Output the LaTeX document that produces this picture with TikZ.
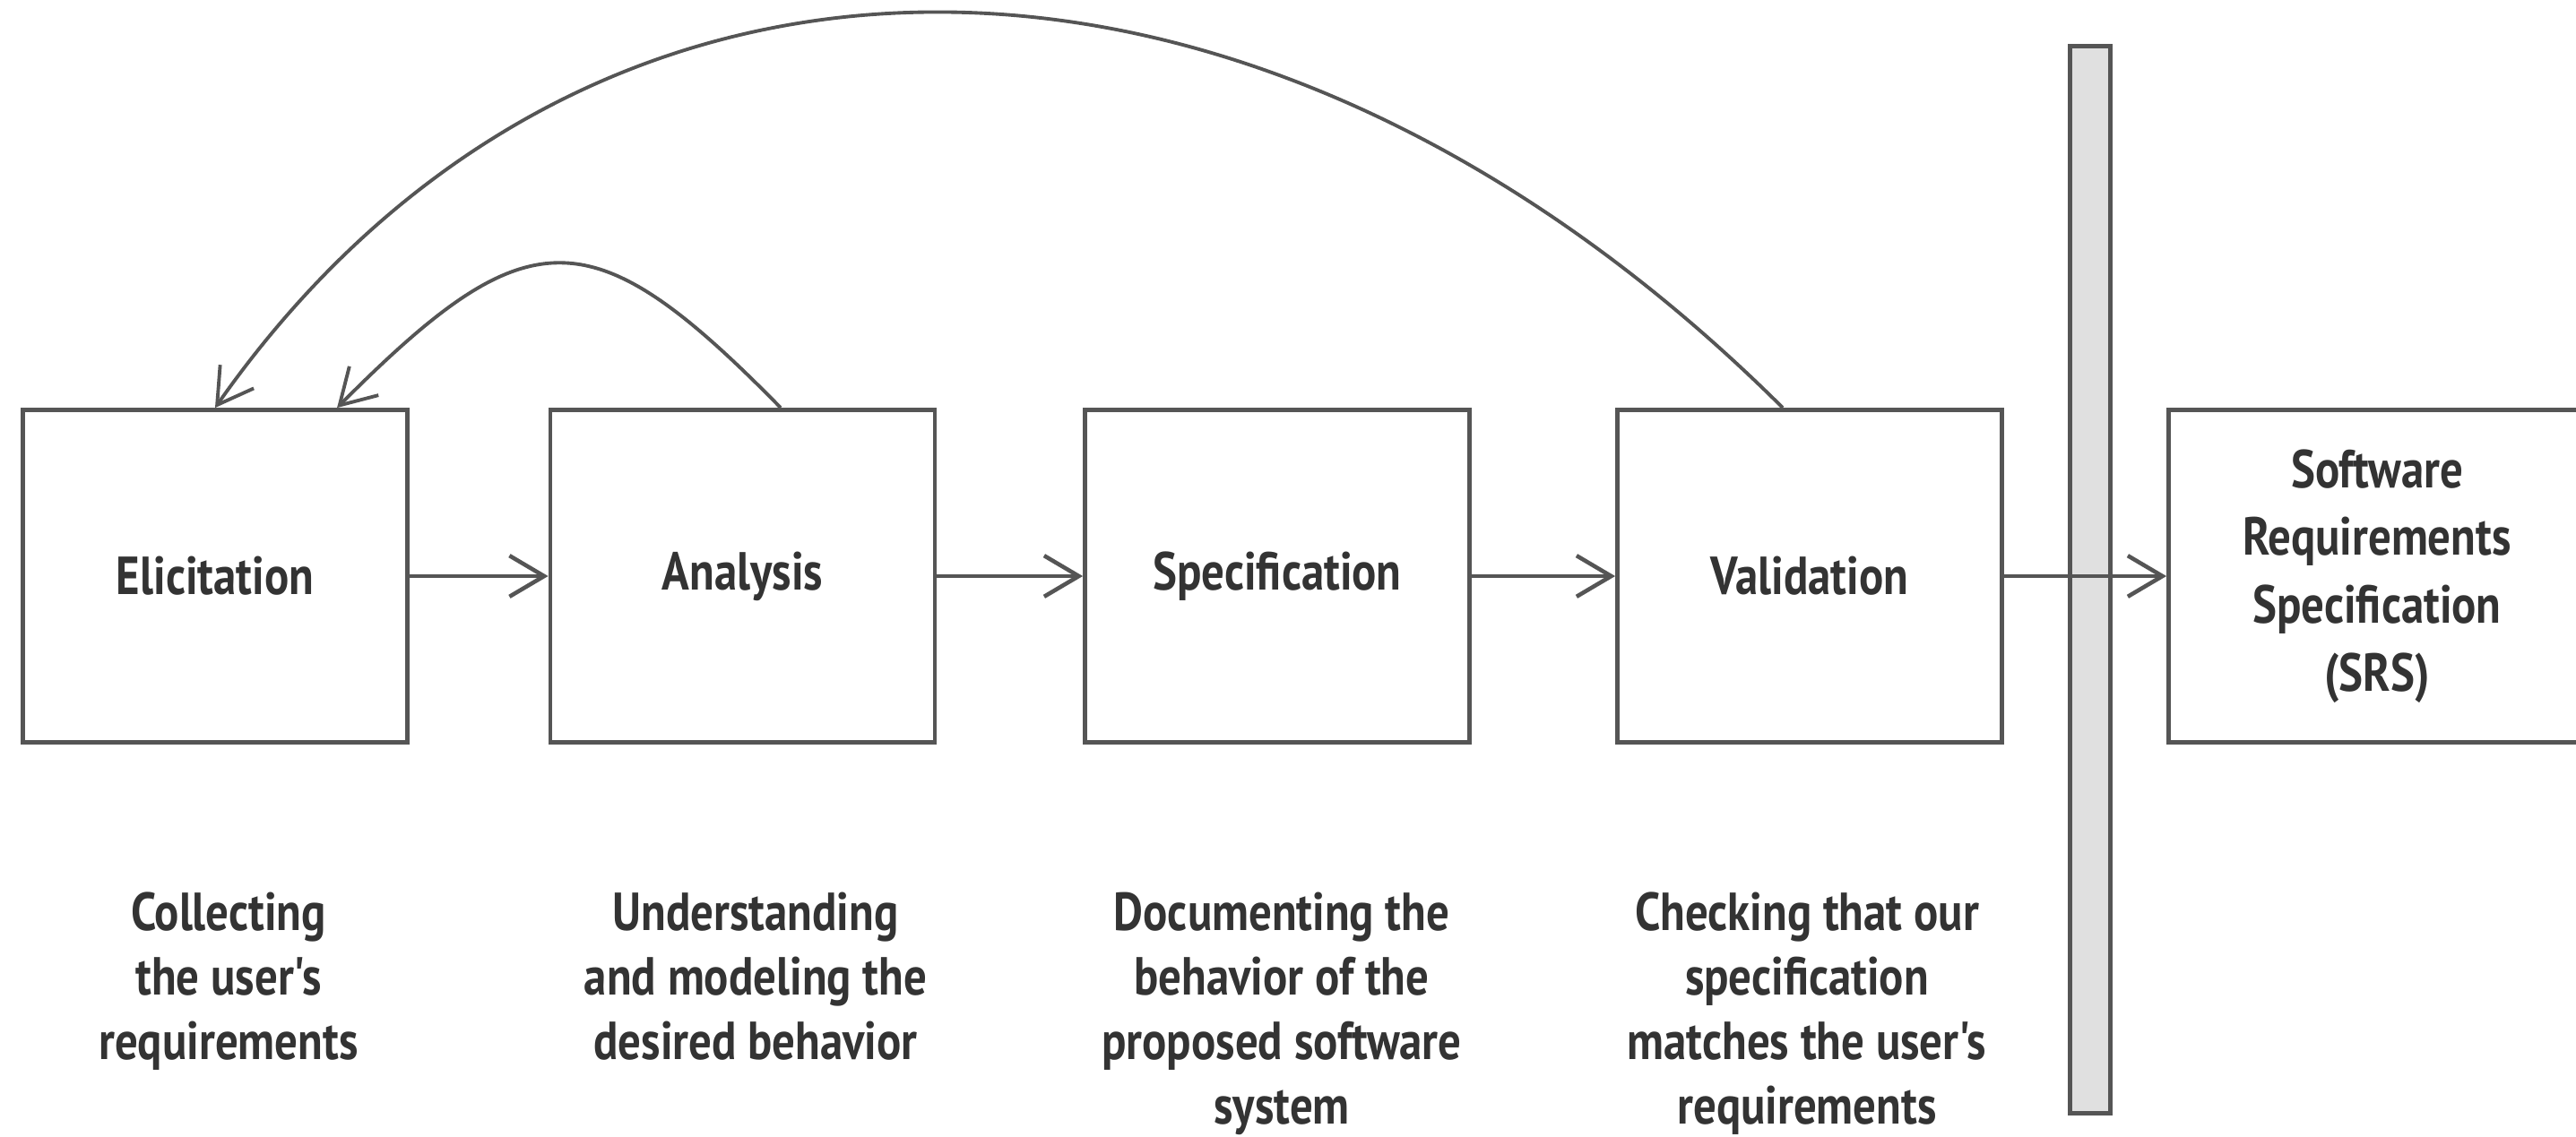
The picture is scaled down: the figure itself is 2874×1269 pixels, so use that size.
\documentclass[tikz,border=0pt]{standalone}
\usepackage{fontspec}
\newfontfamily\lbl{PT Sans}[FakeStretch=0.85]
\usetikzlibrary{arrows.meta}
\definecolor{linec}{HTML}{555555}
\definecolor{txtc}{HTML}{333333}
\definecolor{barc}{HTML}{E0E0E0}
\begin{document}
\begin{tikzpicture}[x=0.01cm,y=-0.01cm,
  box/.style={draw=linec, line width=1.3pt, minimum width=4.29cm, minimum height=3.71cm,
    inner sep=0pt, align=center, text=txtc, font=\lbl\bfseries\fontsize{17}{21.5}\selectfont},
  desc/.style={anchor=north, align=center, text=txtc, inner sep=0pt,
    font=\lbl\bfseries\fontsize{17}{20.5}\selectfont},
  barstyle/.style={draw=linec, line width=1.3pt, fill=barc, minimum width=0.45cm, minimum height=11.9cm, inner sep=0pt},
  arr/.style={draw=linec, line width=1.3pt, -{Straight Barb[length=11pt,width=13pt,line width=1.3pt]}},
  carr/.style={draw=linec, line width=1.1pt, -{Straight Barb[length=11pt,width=13pt,line width=1.1pt]}}]
\clip (0,0) rectangle (2874,1269);
\fill[white] (0,0) rectangle (2874,1269);

\node[box] (eli) at (240,643) {Elicitation};
\node[box] (ana) at (828.5,643) {Analysis};
\node[box] (spe) at (1425,643) {Specification};
\node[box] (val) at (2019,643) {Validation};
\node[box, minimum width=4.65cm] (srs) at (2652,643) {Software\\Requirements\\Specification\\(SRS)};
\node[barstyle] (bar) at (2332,647) {};

\draw[arr] (eli.east) -- (ana.west);
\draw[arr] (ana.east) -- (spe.west);
\draw[arr] (spe.east) -- (val.west);
\draw[arr] (val.east) -- (srs.west);

\draw[carr] ([xshift=-0.3cm]val.north) .. controls (1398,-133) and (652,-133) .. (eli.north);
\draw[carr] ([xshift=0.425cm]ana.north) .. controls (660,240) and (590,240) .. ([xshift=1.36cm]eli.north);

\node[desc] (d1) at (255,995) {Collecting\\the user's\\requirements};
\node[desc] (d2) at (843,995) {Understanding\\and modeling the\\desired behavior};
\node[desc] (d3) at (1430,995) {Documenting the\\behavior of the\\proposed software\\system};
\node[desc] (d4) at (2016,995) {Checking that our\\specification\\matches the user's\\requirements};
\end{tikzpicture}
\end{document}
